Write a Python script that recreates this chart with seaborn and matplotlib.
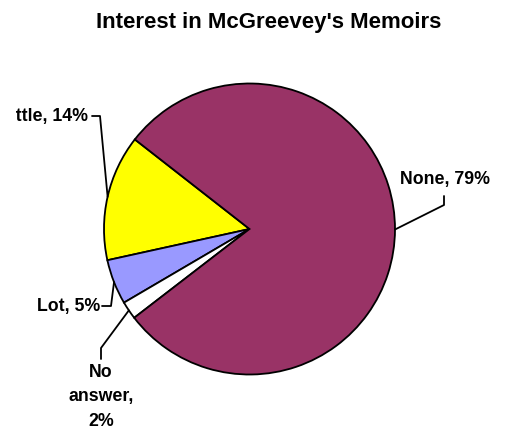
import numpy as np
import matplotlib
matplotlib.use("Agg")
import matplotlib.pyplot as plt
from matplotlib.transforms import Bbox
import seaborn as sns

# Datos del grafico
categorias = ["Little", "Lot", "No answer", "None"]
valores = [14, 5, 2, 79]
etiquetas = ["Little, 14%", "Lot, 5%", "No\nanswer,\n2%", "None, 79%"]
colores = ["#FFFF00", "#9999FF", "#FFFFFF", "#993366"]

sns.set_style("white")
plt.rcParams['font.family'] = ['Liberation Sans', 'DejaVu Sans']
plt.rcParams['text.color'] = 'black'

W, H = 508, 429
fig = plt.figure(figsize=(W / 100, H / 100), dpi=100)

# centro y radio del pastel en pixeles
cx, cy, r = 249.5, 229, 145.5
ax = fig.add_axes([(cx - r) / W, (H - cy - r) / H, 2 * r / W, 2 * r / H])

wedges, _ = ax.pie(valores, colors=colores, startangle=142, counterclock=True,
                   wedgeprops=dict(edgecolor="black", linewidth=1.3))
ax.set_xlim(-1, 1)
ax.set_ylim(-1, 1)
ax.axis("off")


def px(x, y):
    # pixeles de la figura -> coordenadas de datos
    return (x - cx) / r, (cy - y) / r


# posicion del texto y codo de la linea guia (en pixeles)
layout = {
    "Little": dict(text=(88, 116), ha="right", va="center", p1=(92, 116), p2=(100, 116)),
    "Lot": dict(text=(100, 306), ha="right", va="center", p1=(102, 306), p2=(111, 306)),
    "No answer": dict(text=(101, 397), ha="center", va="center", p1=(101, 359), p2=(101, 348)),
    "None": dict(text=(445, 180), ha="center", va="center", p1=(444, 196), p2=(444, 205)),
}

# el area del grafico corta el texto de la izquierda ("Li" no se ve)
clip = Bbox.from_extents(16, 0, W, H)

for w, cat, lab in zip(wedges, categorias, etiquetas):
    ang = np.deg2rad((w.theta1 + w.theta2) / 2)
    ex, ey = np.cos(ang), np.sin(ang)
    L = layout[cat]
    a = px(*L["p1"])
    b = px(*L["p2"])
    ax.plot([a[0], b[0], ex], [a[1], b[1], ey], color="black", lw=1.3, clip_on=False)
    tx, ty = px(*L["text"])
    t = ax.text(tx, ty, lab, ha=L["ha"], va=L["va"], fontsize=12.8, fontweight="bold",
                multialignment="center", linespacing=1.6)
    t.set_clip_on(True)
    t.set_clip_box(clip)

fig.text(269 / W, 1 - 27.7 / H, "Interest in McGreevey's Memoirs", ha="center", va="baseline",
         fontsize=16, fontweight="bold")

fig.savefig("out.png", dpi=100)
